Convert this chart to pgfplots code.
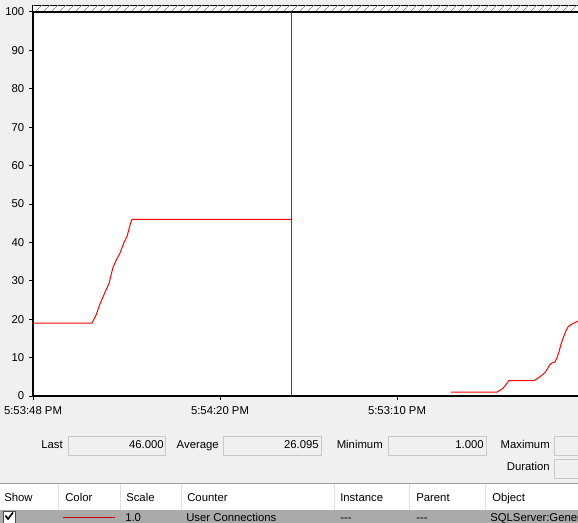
\documentclass[border=0pt]{standalone}
\usepackage{pgfplots}
\pgfplotsset{compat=1.18}
\usepackage{fontspec}
\setmainfont{Liberation Sans}
\usetikzlibrary{patterns.meta}
\definecolor{bg}{RGB}{240,240,240}
\definecolor{boxline}{RGB}{200,200,200}
\definecolor{sepline}{RGB}{160,160,160}
\definecolor{rowgray}{RGB}{170,170,170}
\definecolor{hdrline}{RGB}{225,225,225}
\definecolor{pmred}{RGB}{255,0,0}
\newcommand\uif{\fontsize{8.5}{10}\selectfont}
\begin{document}
\begin{tikzpicture}
\useasboundingbox (0,0) rectangle (433.5pt,391.5pt);
\clip (0,0) rectangle (433.5pt,391.5pt);
\fill[bg] (0,0) rectangle (433.5pt,391.5pt);
\begin{axis}[
  at={(24.75pt,94.5pt)}, anchor=south west,
  x=0.75pt, y=2.88pt,
  xmin=33, xmax=620, ymin=0, ymax=101.6,
  axis background/.style={fill=white},
  axis line style={line width=0.9pt},
  ytick={0,10,...,100},
  xtick={33,220,397},
  xticklabels={5:53:48 PM,5:54:20 PM,5:53:10 PM},
  tick align=outside, xtick pos=left, ytick pos=left,
  major tick length=3pt,
  tick style={black, line width=0.75pt},
  tick label style={font=\uif},
  xticklabel style={yshift=-1.5pt},
  /pgf/number format/assume math mode=true,
]
\fill[white] (axis cs:33,100) rectangle (axis cs:620,101.6);
\fill[pattern={Lines[angle=45,distance=4pt,line width=0.4pt]},pattern color=gray] (axis cs:33,100) rectangle (axis cs:620,101.6);
\draw[line width=0.9pt] (axis cs:33,100) -- (axis cs:620,100);
\addplot[pmred, line width=0.75pt] coordinates {(33,19)(92,19)(96,21)(100,24)(105,27)(109,29.3)(113,33.5)(117,35.8)(120,37.2)(124,40)(127,41.5)(130,44.5)(132,46)(291,46)};
\addplot[pmred, line width=0.75pt] coordinates {(291,0)(291,100)};
\addplot[pmred, line width=0.75pt] coordinates {(451,1)(497,1)(500,1.5)(503,2)(506,3)(509,4)(534,4)(537,4.5)(540,5)(545,6.1)(550,8.2)(552,8.6)(555,8.9)(557,10)(559,11.5)(561,13.5)(563,15)(566,17)(568,18)(571,18.6)(574,19)(578,19.5)(582,19.8)};
\end{axis}
\begin{scope}[x=0.75pt,y=-0.75pt,yshift=391.5pt]
 \uif
 % stats row 1
 \node[anchor=base east,inner sep=0] at (63,448) {Last};
 \draw[boxline,fill=bg] (68,436) rectangle (165,455);
 \node[anchor=base east,inner sep=0] at (164,448) {46.000};
 \node[anchor=base east,inner sep=0] at (219,448) {Average};
 \draw[boxline,fill=bg] (223,436) rectangle (321,455);
 \node[anchor=base east,inner sep=0] at (319,448) {26.095};
 \node[anchor=base east,inner sep=0] at (383,448) {Minimum};
 \draw[boxline,fill=bg] (388,436) rectangle (486,455);
 \node[anchor=base east,inner sep=0] at (484,448) {1.000};
 \node[anchor=base east,inner sep=0] at (550,448) {Maximum};
 \draw[boxline,fill=bg] (554,436) rectangle (600,455);
 % row 2
 \node[anchor=base east,inner sep=0] at (550,470) {Duration};
 \draw[boxline,fill=bg] (554,459) rectangle (600,478);
 % separator
 \draw[sepline,line width=0.75pt] (0,483) -- (578,483);
 % table header
 \fill[white] (0,484) rectangle (578,510);
 \foreach \xx in {58,120,181,334,409,485} \draw[hdrline,line width=0.75pt] (\xx,484) -- (\xx,510);
 \node[anchor=base west,inner sep=0] at (4,501) {Show};
 \node[anchor=base west,inner sep=0] at (65,501) {Color};
 \node[anchor=base west,inner sep=0] at (126,501) {Scale};
 \node[anchor=base west,inner sep=0] at (187,501) {Counter};
 \node[anchor=base west,inner sep=0] at (340,501) {Instance};
 \node[anchor=base west,inner sep=0] at (416,501) {Parent};
 \node[anchor=base west,inner sep=0] at (492,501) {Object};
 % data row
 \fill[rowgray] (0,510) rectangle (578,523);
 \draw[black!70,fill=white] (3,511) rectangle (15,523);
 \draw[black,line width=1.2pt] (5.5,515.5) -- (8,519) -- (13,512.5);
 \draw[pmred!80!black,line width=0.75pt] (63,517) -- (115,517);
 \node[anchor=base west,inner sep=0] at (125,521.5) {1.0};
 \node[anchor=base west,inner sep=0] at (186,521.5) {User Connections};
 \node[anchor=base west,inner sep=0] at (340,521.5) {{-}{-}{-}};
 \node[anchor=base west,inner sep=0] at (416,521.5) {{-}{-}{-}};
 \node[anchor=base west,inner sep=0] at (490,521.5) {SQLServer:General Statistics};
\end{scope}
\end{tikzpicture}
\end{document}
